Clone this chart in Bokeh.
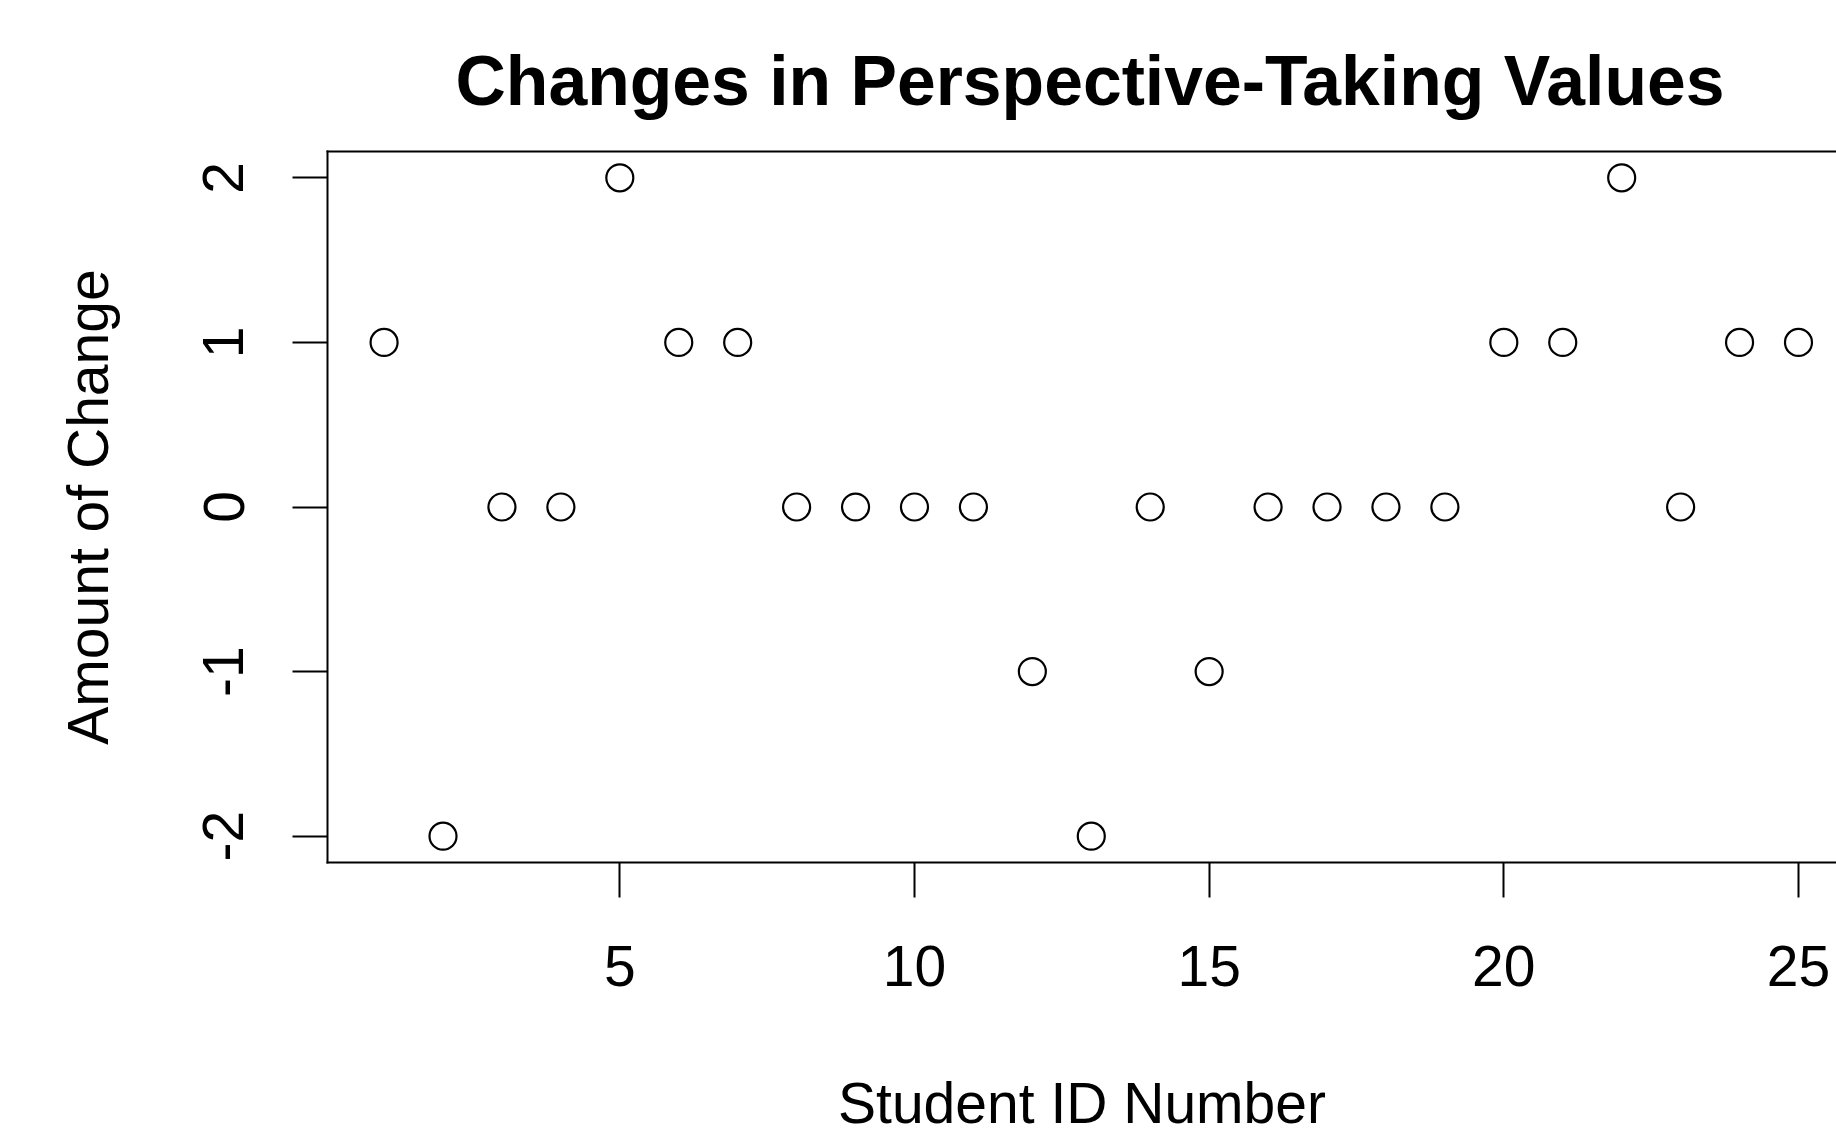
from bokeh.plotting import figure
from bokeh.models import Range1d, FixedTicker, LinearAxis, ColumnDataSource, CustomJSTickFormatter
from bokeh.embed import file_html
from bokeh.resources import INLINE

student_id = list(range(1, 26))
change = [1, -2, 0, 0, 2, 1, 1, 0, 0, 0, 0, -1, -2, 0, -1, 0, 0, 0, 0, 1, 1, 2, 0, 1, 1]
x_ticks = [5, 10, 15, 20, 25]
y_ticks = [-2, -1, 0, 1, 2]
title_text = "Changes in Perspective-Taking Values"

FONT = "Liberation Sans"

src = ColumnDataSource(dict(x=student_id, y=change))

p = figure(width=1836, height=1137, output_backend="svg", toolbar_location=None,
           x_range=Range1d(0.04, 25.645), y_range=Range1d(-2.16, 2.16),
           min_border_left=327, min_border_top=151, min_border_bottom=275, min_border_right=0,
           title=title_text)
p.outline_line_color = None
p.grid.visible = False
p.background_fill_color = "white"
p.border_fill_color = "white"

p.scatter("x", "y", source=src, marker="circle", size=27, fill_color=None,
          line_color="black", line_width=2.2)

fmt = CustomJSTickFormatter(code="return String(tick);")
for ax in (p.xaxis[0], p.yaxis[0]):
    ax.axis_line_width = 2
    ax.axis_line_color = "black"
    ax.axis_line_cap = "square"
    ax.major_tick_line_width = 2
    ax.major_tick_in = 0
    ax.major_tick_out = 35
    ax.minor_tick_out = 0
    ax.minor_tick_in = 0
    ax.major_label_text_font = FONT
    ax.major_label_text_font_size = "57px"
    ax.major_label_text_color = "black"
    ax.axis_label_text_font = FONT
    ax.axis_label_text_font_size = "57px"
    ax.axis_label_text_font_style = "normal"
    ax.axis_label_text_color = "black"
    ax.formatter = fmt

p.xaxis[0].ticker = FixedTicker(ticks=x_ticks)
p.yaxis[0].ticker = FixedTicker(ticks=y_ticks)
p.yaxis[0].major_label_orientation = "vertical"
p.xaxis[0].major_label_standoff = 48
p.yaxis[0].major_label_standoff = 49
p.xaxis[0].axis_label = "Student ID Number"
p.yaxis[0].axis_label = "Amount of Change"
p.xaxis[0].axis_label_standoff = 82
p.yaxis[0].axis_label_standoff = 81

top = LinearAxis(ticker=FixedTicker(ticks=[]), axis_line_width=2, axis_line_cap="square",
                 major_tick_out=0, major_tick_in=0, minor_tick_out=0, minor_tick_in=0,
                 major_label_text_font_size="0px")
p.add_layout(top, "above")

p.title.text_font = FONT
p.title.text_font_size = "69.7px"
p.title.text_font_style = "bold"
p.title.text_color = "black"
p.title.align = "left"
p.title.offset = 128
p.title.standoff = 64

open("out.html", "w").write(file_html(p, INLINE))
